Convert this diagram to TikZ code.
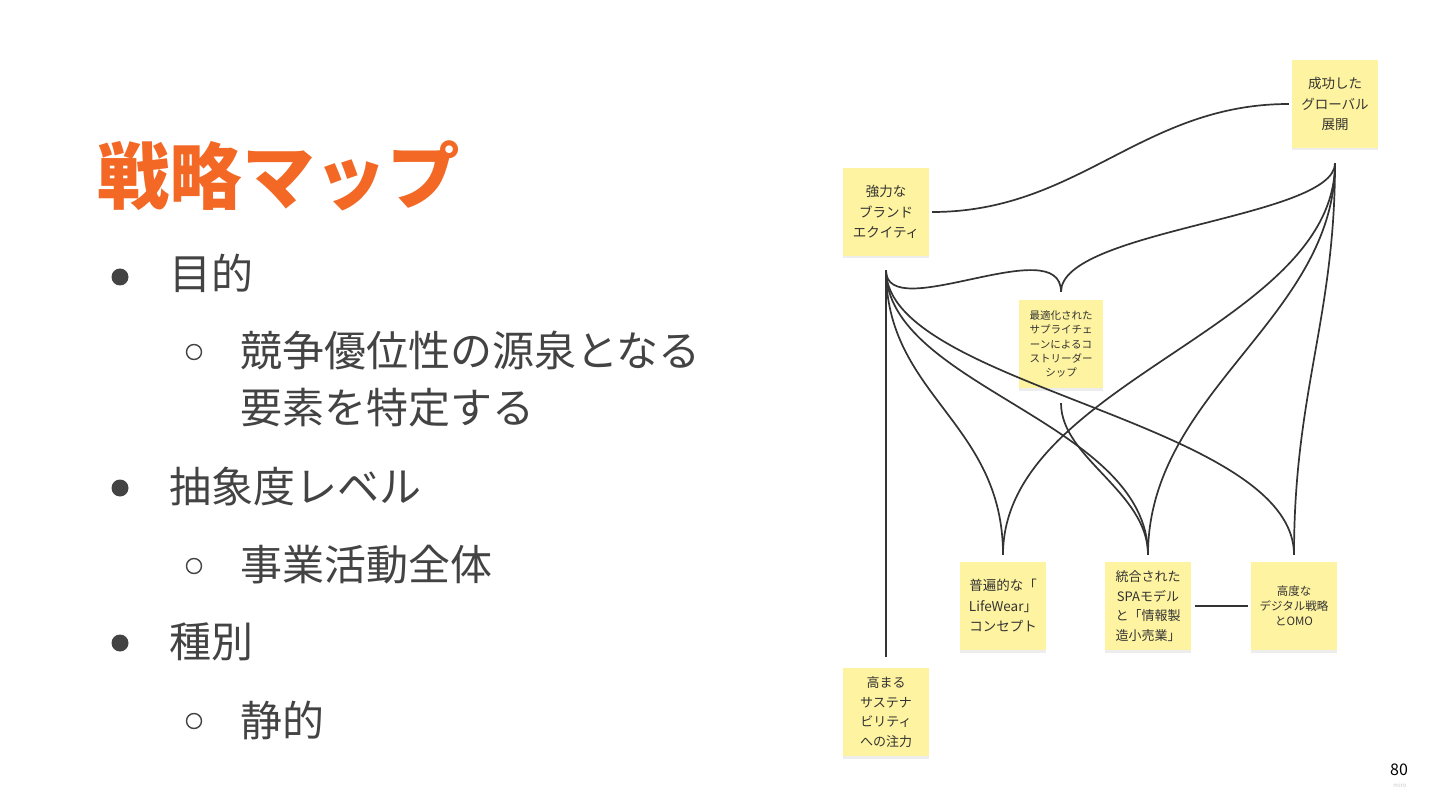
\documentclass[tikz,border=0pt]{standalone}
\usepackage{fontspec}
\setmainfont{Noto Sans CJK JP}
\usetikzlibrary{shadows}
\definecolor{titleorange}{RGB}{242,104,36}
\definecolor{bodygray}{RGB}{67,67,67}
\definecolor{sticky}{RGB}{254,243,160}
\definecolor{inkgray}{RGB}{51,51,51}
\definecolor{mirogray}{RGB}{205,205,205}
\begin{document}
\begin{tikzpicture}[x=1pt,y=-1pt,
  note/.style={fill=sticky, minimum width=86pt, minimum height=88pt, inner sep=0pt,
    align=center, text=inkgray,
    drop shadow={shadow xshift=0pt,shadow yshift=-2.5pt,opacity=0.07,fill=black}},
  nbig/.style={font=\fontsize{13.5}{20.5}\selectfont},
  nsmall/.style={font=\fontsize{10.5}{14.3}\selectfont},
  nmid/.style={font=\fontsize{11.5}{15}\selectfont},
  conn/.style={draw=inkgray, line width=1.7pt},
  body/.style={anchor=west, inner sep=0pt, text=bodygray, font=\fontsize{42}{57}\selectfont},
  bul/.style={fill=bodygray},
  subbul/.style={draw=bodygray, line width=1.4pt}
]
\useasboundingbox[fill=white] (0,0) rectangle (1440,810);

% title and bullets
\node[anchor=west, inner sep=0pt, text=titleorange, font=\fontsize{72.5}{80}\selectfont\bfseries] (title) at (97,176) {戦略マップ};

\fill[bul] (120,277) circle (8.5);
\node[body] (b1) at (169,273) {目的};
\draw[subbul] (194,352) circle (7.5);
\node[body, align=left] (b1a) at (240,379) {競争優位性の源泉となる\\要素を特定する};
\fill[bul] (120,488) circle (8.5);
\node[body] (b2) at (169,487) {抽象度レベル};
\draw[subbul] (194,566) circle (7.5);
\node[body] (b2a) at (240,565) {事業活動全体};
\fill[bul] (120,643) circle (8.5);
\node[body] (b3) at (169,642) {種別};
\draw[subbul] (194,721) circle (7.5);
\node[body] (b3a) at (240,720) {静的};

% sticky notes
\node[note, nbig] (kyo) at (886,212) {強力な\\ブランド\\エクイティ};
\node[note, nbig] (sei) at (1335,104) {成功した\\グローバル\\展開};
\node[note, nsmall, minimum width=84pt] (sai) at (1061,344) {最適化された\\サプライチェ\\ーンによるコ\\ストリーダー\\シップ};
\node[note, nbig] (fu) at (1003,606) {普遍的な「\\LifeWear」\\コンセプト};
\node[note, font=\fontsize{13}{19.5}\selectfont] (to) at (1148,606) {統合された\\SPAモデル\\と「情報製\\造小売業」};
\node[note, nmid] (ko) at (1294,606) {高度な\\デジタル戦略\\とOMO};
\node[note, font=\fontsize{13}{19.5}\selectfont] (taka) at (886,712) {高まる\\サステナ\\ビリティ\\への注力};

% connectors
\draw[conn, shorten <=3pt, shorten >=3pt] (kyo.east) .. controls +(150,0) and +(-150,0) .. (sei.west);
\draw[conn, shorten <=15pt, shorten >=8pt] (sei.south) .. controls +(0,70) and +(0,-70) .. (sai.north);
\draw[conn, shorten <=14pt, shorten >=8pt] (kyo.south) .. controls +(0,70) and +(0,-70) .. (sai.north);
\draw[conn, shorten <=14pt, shorten >=11pt] (kyo.south) -- (taka.north);
\draw[conn, shorten <=14pt, shorten >=7pt] (kyo.south) .. controls +(0,140) and +(0,-140) .. (fu.north);
\draw[conn, shorten <=14pt, shorten >=7pt] (kyo.south) .. controls +(0,130) and +(0,-140) .. (to.north);
\draw[conn, shorten <=14pt, shorten >=7pt] (kyo.south) .. controls +(0,130) and +(0,-140) .. (ko.north);
\draw[conn, shorten <=15pt, shorten >=7pt] (sei.south) .. controls +(0,180) and +(0,-180) .. (fu.north);
\draw[conn, shorten <=15pt, shorten >=7pt] (sei.south) .. controls +(0,170) and +(0,-170) .. (to.north);
\draw[conn, shorten <=15pt, shorten >=7pt] (sei.south) .. controls +(0,170) and +(0,-170) .. (ko.north);
\draw[conn, shorten <=15pt, shorten >=7pt] (sai.south) .. controls +(0,70) and +(0,-70) .. (to.north);
\draw[conn, shorten <=4pt, shorten >=3pt] (to.east) -- (ko.west);

% page number
\node[inner sep=0pt, text=black, font=\fontsize{16}{18}\selectfont] (pg) at (1399,770) {80};
\node[inner sep=0pt, text=mirogray, font=\fontsize{6}{7}\selectfont] (miro) at (1400,785) {miro};
\end{tikzpicture}
\end{document}
